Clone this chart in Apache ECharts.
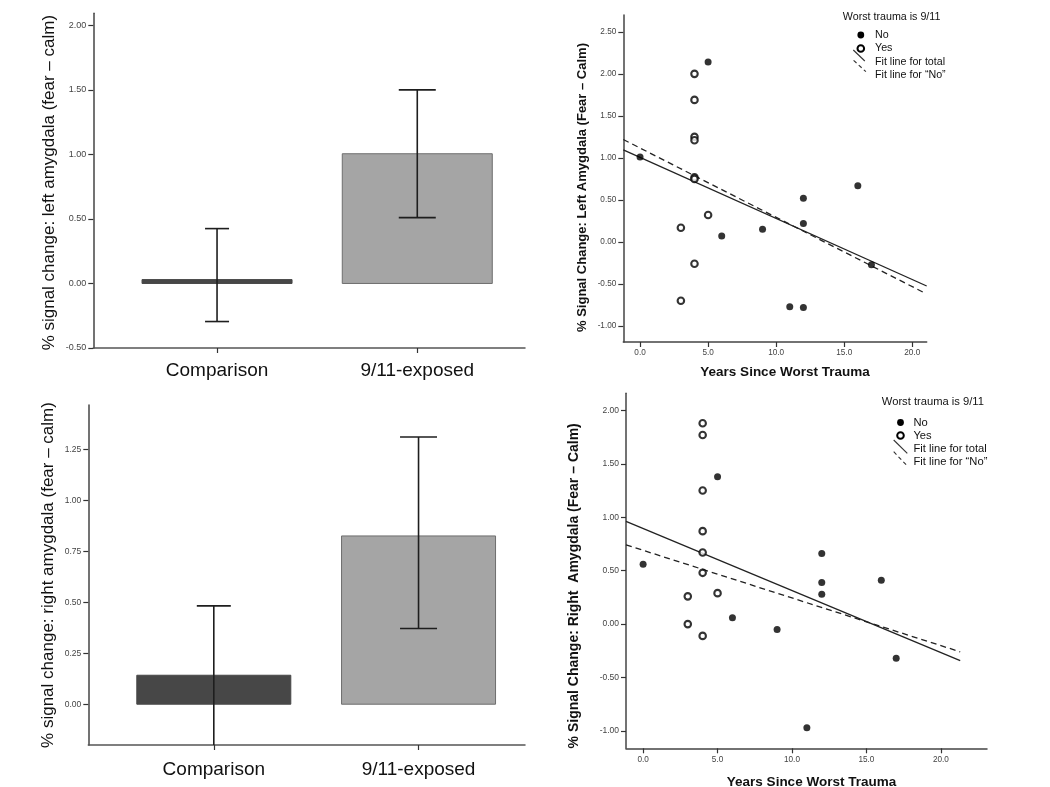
<!DOCTYPE html>
<html><head><meta charset="utf-8">
<script src="https://cdn.jsdelivr.net/npm/echarts@6/dist/echarts.min.js"></script>
<style>html,body{margin:0;padding:0;background:#fff}#c{width:1050px;height:787px}</style>
</head><body><div id="c"></div>
<script>
// ---------- data ----------
const categories = ['Comparison', '9/11-exposed'];
const leftMeans = [0.03, 1.005];
const leftErrLow = [-0.295, 0.51];
const leftErrHigh = [0.425, 1.50];
const rightMeans = [0.142, 0.825];
const rightErrLow = [-0.2, 0.371];
const rightErrHigh = [0.482, 1.31];

const leftYTicks = [-0.5, 0, 0.5, 1.0, 1.5, 2.0];
const rightYTicks = [0, 0.25, 0.5, 0.75, 1.0, 1.25];
const scatterXTicks = [0, 5, 10, 15, 20];
const topScatterYTicks = [-1, -0.5, 0, 0.5, 1, 1.5, 2, 2.5];
const botScatterYTicks = [-1, -0.5, 0, 0.5, 1, 1.5, 2];

const topNoYears = [0, 5, 6, 9, 11, 12, 12, 12, 16, 17];
const topNoValues = [1.01, 2.14, 0.07, 0.15, -0.77, -0.78, 0.52, 0.22, 0.67, -0.27];
const topYesYears = [4, 4, 4, 4, 4, 4, 5, 3, 4, 3];
const topYesValues = [2.00, 1.69, 1.25, 1.21, 0.77, 0.75, 0.32, 0.17, -0.26, -0.70];
const topFitTotalX = [-1.23, 21.06];
const topFitTotalY = [1.095, -0.524];
const topFitNoX = [-1.23, 21.0];
const topFitNoY = [1.219, -0.614];

const botNoYears = [0, 5, 6, 9, 11, 12, 12, 12, 16, 17];
const botNoValues = [0.56, 1.38, 0.06, -0.05, -0.97, 0.66, 0.39, 0.28, 0.41, -0.32];
const botYesYears = [4, 4, 4, 4, 4, 4, 5, 3, 3, 4];
const botYesValues = [1.88, 1.77, 1.25, 0.87, 0.67, 0.48, 0.29, 0.26, 0.00, -0.11];
const botFitTotalX = [-1.15, 21.3];
const botFitTotalY = [0.961, -0.341];
const botFitNoX = [-1.15, 21.3];
const botFitNoY = [0.742, -0.259];

// ---------- style ----------
const FONT = '"Liberation Sans", Arial, Helvetica, sans-serif';
const BAR_FILL = ['#474747', '#a5a5a5'];
const BAR_STROKE = ['#474747', '#6e6e6e'];

function zip(a, b) { return a.map((v, i) => [v, b[i]]); }

function barSeries(xi, yi, means, lo, hi, halfW, capHalf, yMin) {
  return {
    type: 'custom', xAxisIndex: xi, yAxisIndex: yi, clip: false,
    data: means.map((m, i) => [i + 1, m, lo[i], hi[i]]),
    renderItem(params, api) {
      const i = params.dataIndex;
      const x = api.value(0);
      const base = api.coord([x, 0]);
      const top = api.coord([x, api.value(1)]);
      const pLo = api.coord([x, api.value(2)]);
      const pHi = api.coord([x, api.value(3)]);
      const cx = base[0];
      const ch = capHalf[i];
      const es = { stroke: '#1e1e1e', lineWidth: 1.6 };
      const children = [
        { type: 'rect', shape: { x: cx - halfW, y: Math.min(base[1], top[1]), width: 2 * halfW, height: Math.abs(base[1] - top[1]) },
          style: { fill: BAR_FILL[i], stroke: BAR_STROKE[i], lineWidth: 1 } },
        { type: 'line', shape: { x1: cx, y1: pLo[1], x2: cx, y2: pHi[1] }, style: es },
        { type: 'line', shape: { x1: cx - ch, y1: pHi[1], x2: cx + ch, y2: pHi[1] }, style: es }
      ];
      if (api.value(2) > yMin) {
        children.push({ type: 'line', shape: { x1: cx - ch, y1: pLo[1], x2: cx + ch, y2: pLo[1] }, style: es });
      }
      return { type: 'group', children };
    }
  };
}

function catXAxis(gi, min, max, margin) {
  return {
    type: 'value', gridIndex: gi, min, max,
    splitLine: { show: false },
    axisLine: { show: true, onZero: false, lineStyle: { color: '#555', width: 1.5 } },
    axisTick: { show: true, customValues: [1, 2], length: 5, lineStyle: { color: '#333', width: 1.2 } },
    axisLabel: { customValues: [1, 2], formatter: v => categories[Math.round(v) - 1], fontSize: 19, color: '#111', fontFamily: FONT, margin }
  };
}
function numYAxis(gi, min, max, ticks, dec, name, nameSize, nameGap, bold, shift, fs) {
  return {
    type: 'value', gridIndex: gi, min, max,
    splitLine: { show: false },
    axisLine: { show: true, onZero: false, lineStyle: { color: '#444', width: 1.5 } },
    axisTick: { show: true, customValues: ticks, length: 5, lineStyle: { color: '#333', width: 1.2 } },
    axisLabel: { customValues: ticks, formatter: v => v.toFixed(dec), fontSize: fs, color: '#444', fontFamily: FONT, margin: 7 },
    name, nameLocation: 'middle', nameGap,
    nameTextStyle: { fontSize: nameSize, color: '#111', fontFamily: FONT, fontWeight: bold ? 'bold' : 'normal', padding: [0, shift, 0, 0] }
  };
}
function numXAxis(gi, min, max, name, nameGap, shift) {
  return {
    type: 'value', gridIndex: gi, min, max,
    splitLine: { show: false },
    axisLine: { show: true, onZero: false, lineStyle: { color: '#444', width: 1.5 } },
    axisTick: { show: true, customValues: scatterXTicks, length: 5, lineStyle: { color: '#333', width: 1.2 } },
    axisLabel: { customValues: scatterXTicks, formatter: v => v.toFixed(1), fontSize: 8.2, color: '#444', fontFamily: FONT, margin: 7 },
    name, nameLocation: 'middle', nameGap,
    nameTextStyle: { fontSize: 13.5, color: '#111', fontFamily: FONT, fontWeight: 'bold', padding: [0, 0, 0, shift] }
  };
}
function scatterPair(xi, yi, noX, noY, yesX, yesY) {
  return [
    { type: 'scatter', xAxisIndex: xi, yAxisIndex: yi, symbol: 'circle', symbolSize: 7, z: 5,
      itemStyle: { color: '#000' }, data: zip(noX, noY) },
    { type: 'scatter', xAxisIndex: xi, yAxisIndex: yi, symbol: 'circle', symbolSize: 6.5, z: 5,
      itemStyle: { color: '#fff', borderColor: '#000', borderWidth: 2.1 }, data: zip(yesX, yesY) }
  ];
}
function fitLine(xi, yi, xs, ys, dashed) {
  return { type: 'line', xAxisIndex: xi, yAxisIndex: yi, showSymbol: false, symbol: 'none', z: 3, silent: true,
    lineStyle: { color: '#222', width: 1.3, type: dashed ? [6, 4] : 'solid' }, data: zip(xs, ys) };
}
function legend(x0, y0, title, titleSize, itemSize, dotX, textX, rows, slash1, slash2) {
  const t = (text, x, y, s) => ({ type: 'text', style: { text, x, y, fontSize: s, fontFamily: FONT, fill: '#111', verticalAlign: 'middle' } });
  return [
    t(title, x0, y0, titleSize),
    { type: 'circle', shape: { cx: dotX, cy: rows[0], r: 3.4 }, style: { fill: '#000' } },
    t('No', textX, rows[0], itemSize),
    { type: 'circle', shape: { cx: dotX, cy: rows[1], r: 3.3 }, style: { fill: '#fff', stroke: '#000', lineWidth: 2 } },
    t('Yes', textX, rows[1], itemSize),
    { type: 'line', shape: slash1, style: { stroke: '#333', lineWidth: 1.1 } },
    t('Fit line for total', textX, rows[2], itemSize),
    { type: 'line', shape: slash2, style: { stroke: '#333', lineWidth: 1.1, lineDash: [4, 3] } },
    t('Fit line for \u201CNo\u201D', textX, rows[3], itemSize)
  ];
}

const option = {
  backgroundColor: '#fff',
  animation: false,
  grid: [
    { left: 93.3, top: 13.3, width: 431.7, height: 334.7, containLabel: false, outerBoundsMode: 'none' },
    { left: 623.3, top: 15, width: 303.4, height: 327, containLabel: false, outerBoundsMode: 'none' },
    { left: 88.3, top: 405, width: 436.7, height: 340, containLabel: false, outerBoundsMode: 'none' },
    { left: 626, top: 393.3, width: 361, height: 355, containLabel: false, outerBoundsMode: 'none' }
  ],
  xAxis: [
    catXAxis(0, 0.382, 2.538, 13),
    numXAxis(1, -1.23, 21.06, 'Years Since Worst Trauma', 23, 20),
    catXAxis(2, 0.387, 2.52, 15),
    numXAxis(3, -1.15, 23.1, 'Years Since Worst Trauma', 27, 10)
  ],
  yAxis: [
    numYAxis(0, -0.5, 2.093, leftYTicks, 2, '% signal change: left amygdala (fear \u2013 calm)', 17, 35, false, 4, 9),
    numYAxis(1, -1.19, 2.70, topScatterYTicks, 2, '% Signal Change: Left Amygdala (Fear \u2013 Calm)', 13, 34, true, 18, 8.2),
    numYAxis(2, -0.2, 1.467, rightYTicks, 2, '% signal change: right amygdala (fear \u2013 calm)', 17, 31.5, false, 0, 8.5),
    numYAxis(3, -1.162, 2.16, botScatterYTicks, 2, '% Signal Change: Right  Amygdala (Fear \u2013 Calm)', 14, 45, true, 30, 8.5)
  ],
  series: [
    barSeries(0, 0, leftMeans, leftErrLow, leftErrHigh, 75, [12, 18.5], -0.5),
    fitLine(1, 1, topFitTotalX, topFitTotalY, false),
    fitLine(1, 1, topFitNoX, topFitNoY, true),
    ...scatterPair(1, 1, topNoYears, topNoValues, topYesYears, topYesValues),
    barSeries(2, 2, rightMeans, rightErrLow, rightErrHigh, 77, [17, 18.5], -0.2),
    fitLine(3, 3, botFitTotalX, botFitTotalY, false),
    fitLine(3, 3, botFitNoX, botFitNoY, true),
    ...scatterPair(3, 3, botNoYears, botNoValues, botYesYears, botYesValues)
  ],
  graphic: [
    ...legend(842.8, 17, 'Worst trauma is 9/11', 10.7, 10.7, 860.8, 875, [35, 48.5, 62, 75],
      { x1: 853.3, y1: 50, x2: 864.8, y2: 61 }, { x1: 853.6, y1: 60.3, x2: 865.9, y2: 71.7 }),
    ...legend(881.8, 402.3, 'Worst trauma is 9/11', 11.2, 11.2, 900.5, 913.4, [422.5, 435.5, 449, 462.3],
      { x1: 893.7, y1: 440, x2: 907.3, y2: 453.3 }, { x1: 893.7, y1: 451.7, x2: 907.3, y2: 466 })
  ]
};

const chart = echarts.init(document.getElementById('c'), null, { renderer: 'canvas' });
chart.setOption(option);
</script>
</body></html>
